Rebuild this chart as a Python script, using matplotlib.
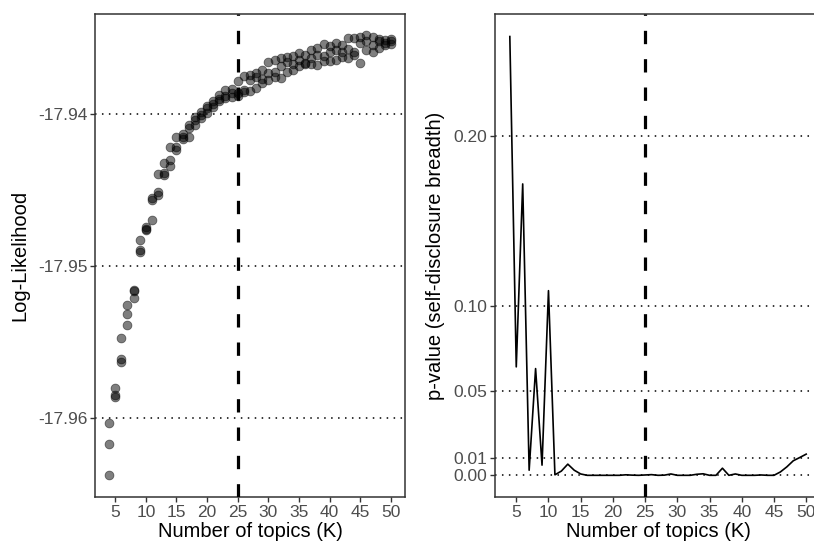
import matplotlib
matplotlib.use("Agg")
import matplotlib.pyplot as plt

plt.rcParams['font.family'] = ['Liberation Sans', 'DejaVu Sans']
plt.rcParams['lines.scale_dashes'] = False

# number of topics
K = list(range(4, 51))

# log-likelihood, three runs per K
ll_run1 = [-17.96033, -17.95803, -17.95474, -17.95257, -17.95158, -17.94829, -17.94743, -17.94553,
           -17.94395, -17.94322, -17.94217, -17.94151, -17.94132, -17.94072, -17.94020, -17.93987,
           -17.93947, -17.93914, -17.93875, -17.93842, -17.93836, -17.93783, -17.93750, -17.93743,
           -17.93730, -17.93711, -17.93658, -17.93645, -17.93632, -17.93625, -17.93618, -17.93599,
           -17.93612, -17.93579, -17.93566, -17.93539, -17.93553, -17.93533, -17.93546, -17.93500,
           -17.93500, -17.93493, -17.93480, -17.93493, -17.93507, -17.93513, -17.93507]
ll_run2 = [-17.96171, -17.95849, -17.95612, -17.95316, -17.95164, -17.94895, -17.94757, -17.94566,
           -17.94513, -17.94388, -17.94303, -17.94217, -17.94151, -17.94092, -17.94039, -17.94007,
           -17.93961, -17.93934, -17.93901, -17.93882, -17.93862, -17.93862, -17.93842, -17.93776,
           -17.93757, -17.93770, -17.93730, -17.93724, -17.93684, -17.93658, -17.93671, -17.93645,
           -17.93664, -17.93632, -17.93612, -17.93618, -17.93592, -17.93579, -17.93592, -17.93572,
           -17.93592, -17.93533, -17.93520, -17.93546, -17.93520, -17.93533, -17.93520]
ll_run3 = [-17.96375, -17.95862, -17.95632, -17.95388, -17.95211, -17.94908, -17.94763, -17.94697,
           -17.94533, -17.94401, -17.94342, -17.94237, -17.94164, -17.94151, -17.94072, -17.94026,
           -17.93993, -17.93954, -17.93914, -17.93895, -17.93888, -17.93882, -17.93855, -17.93849,
           -17.93829, -17.93796, -17.93776, -17.93757, -17.93763, -17.93724, -17.93711, -17.93684,
           -17.93671, -17.93671, -17.93678, -17.93651, -17.93651, -17.93645, -17.93625, -17.93632,
           -17.93612, -17.93664, -17.93579, -17.93592, -17.93566, -17.93546, -17.93539]

# p-value of self-disclosure breadth per K
p_value = [0.259, 0.064, 0.172, 0.003, 0.063, 0.006, 0.109, 0.0003, 0.0025, 0.0066,
           0.003, 0.0008, 0.0, 0.0, 0.0, 0.0, 0.0, 0.0, 0.0003, 0.0001,
           0.0, 0.0002, 0.0004, 0.0, 0.0001, 0.0008, 0.0, 0.0, 0.0, 0.0006,
           0.0009, 0.0, 0.0, 0.0042, 0.0, 0.0008, 0.0, 0.0, 0.0, 0.0002,
           0.0, 0.0, 0.002, 0.005, 0.0086, 0.0105, 0.0125]

ll_ticks = [-17.96, -17.95, -17.94]
p_ticks = [0.0, 0.01, 0.05, 0.10, 0.20]
k_ticks = list(range(5, 51, 5))
chosen_k = 25

W, H = 814, 552
fig = plt.figure(figsize=(W / 100, H / 100), dpi=100)
ax1 = fig.add_axes([95 / W, 55 / H, 310 / W, 483 / H])
ax2 = fig.add_axes([495 / W, 55 / H, 326 / W, 483 / H])

grid_kw = dict(color='black', lw=1.1, linestyle=(0, (1.1, 3.9)), zorder=1)
tick_color = '#4D4D4D'

for ax in (ax1, ax2):
    ax.set_xlim(1.7, 52.3)
    ax.set_xticks(k_ticks)
    ax.axvline(chosen_k, color='black', lw=2.3, linestyle=(0, (9.6, 10.8)), zorder=4)
    for s in ax.spines.values():
        s.set_color('#333333')
        s.set_linewidth(1.1)
    ax.tick_params(axis='both', colors='#333333', labelcolor=tick_color,
                   labelsize=12.5, length=3.5, width=1.0, pad=2)
    ax.set_xlabel('Number of topics (K)', fontsize=14.5, color='black', labelpad=2)

# left: log-likelihood scatter
for run in (ll_run1, ll_run2, ll_run3):
    ax1.scatter(K, run, s=40, facecolor='black', edgecolor='black', linewidth=0.6,
                alpha=0.5, zorder=3)
for t in ll_ticks:
    ax1.axhline(t, **grid_kw)
ax1.set_ylim(-17.9652, -17.9334)
ax1.set_yticks(ll_ticks)
ax1.set_yticklabels(['-17.96', '-17.95', '-17.94'])
ax1.set_ylabel('Log-Likelihood', fontsize=14.5, labelpad=6)

# right: p-value line
ax2.plot(K, p_value, color='black', lw=1.2, zorder=3)
for t in p_ticks:
    ax2.axhline(t, **grid_kw)
ax2.set_ylim(-0.0128, 0.2723)
ax2.set_yticks(p_ticks)
ax2.set_yticklabels(['0.00', '0.01', '0.05', '0.10', '0.20'])
ax2.set_ylabel('p-value (self-disclosure breadth)', fontsize=14.5, labelpad=6)

fig.savefig('out.png', dpi=100)
